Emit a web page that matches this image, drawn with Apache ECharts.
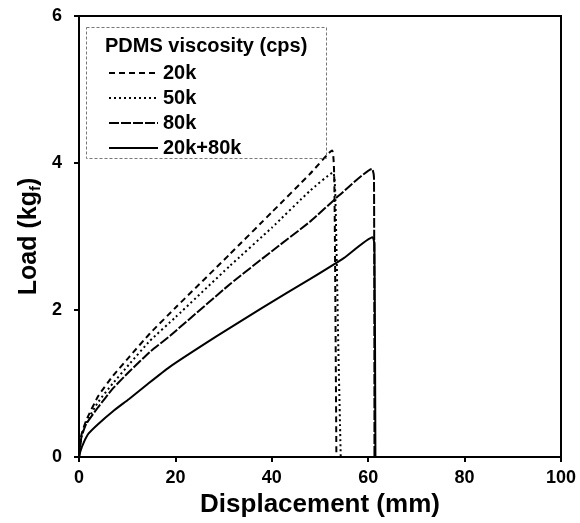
<!DOCTYPE html>
<html><head><meta charset="utf-8">
<script src="https://cdn.jsdelivr.net/npm/echarts@6/dist/echarts.min.js"></script>
<style>html,body{margin:0;padding:0;background:#fff}#c{width:580px;height:523px}</style>
</head><body><div id="c"></div>
<script>
const seriesNames = ['20k', '50k', '80k', '20k+80k'];
const xTicks = [0, 20, 40, 60, 80, 100];
const yTicks = [0, 2, 4, 6];
const data20k = [[0,0],[0.5,0.3],[1.5,0.5],[4,0.83],[7,1.1],[10.4,1.36],[14.7,1.68],[20,2.03],[31.3,2.76],[40,3.33],[47.9,3.85],[52.5,4.17],[53.0,3.6],[53.4,0]];
const data50k = [[0,0],[0.5,0.28],[1.5,0.47],[4,0.75],[7,1.0],[10.4,1.26],[14.7,1.58],[20,1.9],[31.3,2.6],[40,3.12],[47.9,3.62],[52.7,3.87],[53.2,3.5],[53.8,1.5],[54.3,0]];
const data80k = [[0,0],[0.5,0.27],[1.5,0.45],[4,0.68],[7,0.93],[10.4,1.16],[14.7,1.43],[18.9,1.65],[31.3,2.35],[40,2.8],[47.9,3.2],[54,3.56],[60.8,3.92],[61.2,3.8],[61.3,0]];
const data20k80k = [[0,0],[0.3,0.08],[1,0.2],[2,0.32],[4,0.45],[7,0.62],[10.4,0.79],[14,0.98],[18.7,1.22],[28.5,1.64],[38,2.03],[47.9,2.42],[55,2.71],[60.9,2.99],[61.3,2.9],[61.5,0]];

const chart = echarts.init(document.getElementById('c'));
const font = 'Liberation Sans, Arial, sans-serif';
function mk(name, data, dash) {
  return {name, type: 'line', data, symbol: 'none', smooth: 0.15, animation: false,
    lineStyle: {color: '#000', width: 2, type: dash}, itemStyle: {color: '#000'}};
}
chart.setOption({
  animation: false,
  grid: {left: 79, right: 19, top: 16, bottom: 66, show: true, borderColor: '#000', borderWidth: 2, containLabel: false},
  xAxis: {type: 'value', min: 0, max: 100, interval: 20,
    name: 'Displacement (mm)', nameLocation: 'middle', nameGap: 29,
    nameTextStyle: {fontFamily: font, fontWeight: 'bold', fontSize: 26, color: '#000'},
    axisLine: {lineStyle: {color: '#000', width: 2}},
    axisTick: {show: true, length: 5, lineStyle: {color: '#000', width: 2}},
    axisLabel: {fontFamily: font, fontWeight: 'bold', fontSize: 18, color: '#000', margin: 12,
      formatter: v => xTicks.includes(v) ? String(v) : ''},
    splitLine: {show: false}},
  yAxis: {type: 'value', min: 0, max: 6, interval: 2,
    name: 'Load (kg{s|f})', nameLocation: 'middle', nameGap: 36, nameMoveOverlap: false,
    nameTextStyle: {fontFamily: font, fontWeight: 'bold', fontSize: 25, color: '#000',
      rich: {s: {fontFamily: font, fontWeight: 'bold', fontSize: 15, color: '#000', verticalAlign: 'bottom', padding: [12,0,0,0]}}},
    axisLine: {lineStyle: {color: '#000', width: 2}},
    axisTick: {show: true, length: 5, lineStyle: {color: '#000', width: 2}},
    axisLabel: {fontFamily: font, fontWeight: 'bold', fontSize: 18, color: '#000', margin: 17,
      formatter: v => yTicks.includes(v) ? String(v) : ''},
    splitLine: {show: false}},
  legend: {orient: 'vertical', left: 103, top: 58, itemWidth: 49, itemHeight: 14, itemGap: 5,
    data: seriesNames,
    itemStyle: {color: 'rgba(0,0,0,0)', borderWidth: 0, opacity: 0},
    textStyle: {fontFamily: font, fontWeight: 'bold', fontSize: 20, color: '#000'}},
  graphic: [
    {type: 'rect', left: 86, top: 27, shape: {width: 240, height: 131}, z: 100,
      style: {fill: 'transparent', stroke: '#777', lineWidth: 1, lineDash: [3, 2]}},
    {type: 'text', left: 105, top: 36, z: 101,
      style: {text: 'PDMS viscosity (cps)', fontFamily: font, fontWeight: 'bold', fontSize: 20, fill: '#000'}}
  ],
  series: [
    mk(seriesNames[0], data20k, [6, 4]),
    mk(seriesNames[1], data50k, [2, 3]),
    mk(seriesNames[2], data80k, [10, 2]),
    mk(seriesNames[3], data20k80k, 'solid')
  ]
});
</script></body></html>
